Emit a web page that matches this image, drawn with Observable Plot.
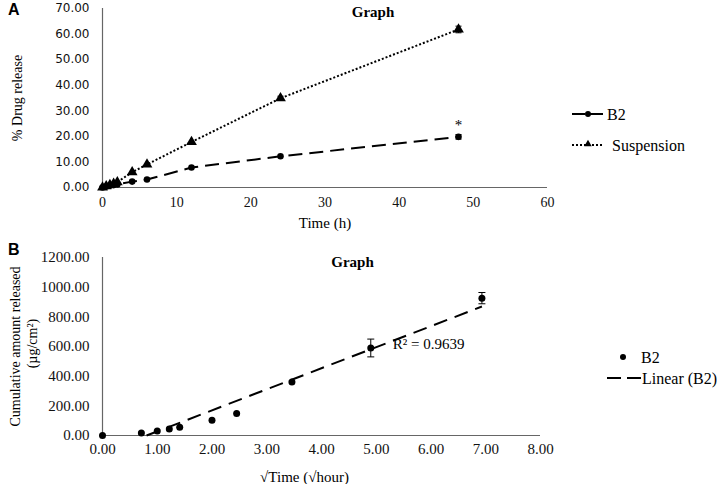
<!DOCTYPE html>
<html>
<head>
<meta charset="utf-8">
<script src="https://cdn.jsdelivr.net/npm/d3@7"></script>
<script src="https://cdn.jsdelivr.net/npm/@observablehq/plot@0.6"></script>
<style>
  body { margin: 0; background: #fff; }
  #wrap { position: relative; width: 720px; height: 484px; background: #fff; color: #111; }
  #wrap svg { display: block; }
  #overlay { position: absolute; left: 0; top: 0; pointer-events: none; }
</style>
</head>
<body>
<div id="wrap">
  <div id="a"></div>
  <div id="b"></div>
  <svg id="overlay" width="720" height="484"></svg>
</div>
<script>
// ---------- Panel A data ----------
const timesA = [0, 0.5, 1, 1.5, 2, 4, 6, 12, 24, 48];
const b2Release = [0, 0.36, 0.66, 0.94, 1.2, 2.3, 3.1, 7.8, 12.2, 19.8];
const suspRelease = [0, 0.5, 1.0, 1.5, 2.1, 6.0, 9.0, 17.8, 34.9, 61.8];
const b2ErrA = [0, 0, 0, 0, 0, 0, 0, 0, 0, 0.9];
const suspErrA = [0, 0, 0, 0, 0, 0, 0, 0, 0.8, 1.3];
const xTicksA = [0, 10, 20, 30, 40, 50, 60];
const yTicksA = [0, 10, 20, 30, 40, 50, 60, 70];
const starA = [{x: 48, y: 24.2, label: "*"}];

// ---------- Panel B data ----------
const sqrtTimeB = [0, 0.71, 1.00, 1.22, 1.41, 2.00, 2.45, 3.46, 4.90, 6.93];
const cumulativeB = [0, 17, 31, 44, 56, 103, 148, 360, 590, 926];
const errB = [0, 0, 0, 0, 0, 0, 0, 0, 60, 38];
const xTicksB = [0, 1, 2, 3, 4, 5, 6, 7, 8];
const yTicksB = [0, 200, 400, 600, 800, 1000, 1200];
const r2Label = [{x: 5.3, y: 618, label: "R² = 0.9639"}];

const serif = "'Liberation Serif', 'Times New Roman', serif";
const sans = "'DejaVu Sans', Verdana, sans-serif";

const capSymbol = {
  draw(context, size) {
    const w = Math.sqrt(size / Math.PI);
    context.moveTo(-w, 0);
    context.lineTo(w, 0);
  }
};

const rowsA = timesA.map((t, i) => ({t, b2: b2Release[i], s: suspRelease[i], eb: b2ErrA[i], es: suspErrA[i]}));
const errRowsA = [
  ...rowsA.filter(d => d.eb > 0).map(d => ({t: d.t, v: d.b2, e: d.eb})),
  ...rowsA.filter(d => d.es > 0).map(d => ({t: d.t, v: d.s, e: d.es}))
];

const chartA = Plot.plot({
  width: 720,
  height: 240,
  marginLeft: 102,
  marginRight: 173,
  marginTop: 8,
  marginBottom: 53,
  style: {background: "transparent", color: "#111", overflow: "visible"},
  x: {domain: [0, 60]},
  y: {domain: [0, 70]},
  marks: [
    Plot.axisX({ticks: xTicksA, tickFormat: d => String(d), tickSize: 0, tickPadding: 10, fontSize: 14, fontFamily: serif, label: null}),
    Plot.axisY({ticks: yTicksA, tickFormat: d3.format(".2f"), tickSize: 0, tickPadding: 13, fontSize: 12, fontFamily: sans, label: null}),
    Plot.ruleX([0], {stroke: "#666", strokeWidth: 1.2}),
    Plot.ruleY([0], {stroke: "#666", strokeWidth: 1.2}),
    Plot.line(rowsA, {x: "t", y: "s", stroke: "#000", strokeWidth: 2, strokeDasharray: "2,2", strokeLinecap: "butt"}),
    Plot.line(rowsA, {x: "t", y: "b2", stroke: "#000", strokeWidth: 2, strokeDasharray: "14,7", strokeLinecap: "butt"}),
    Plot.link(errRowsA, {x1: "t", x2: "t", y1: d => d.v - d.e, y2: d => d.v + d.e, stroke: "#000", strokeWidth: 1}),
    Plot.dot(errRowsA, {x: "t", y: d => d.v - d.e, symbol: capSymbol, r: 3, stroke: "#000", strokeWidth: 1}),
    Plot.dot(errRowsA, {x: "t", y: d => d.v + d.e, symbol: capSymbol, r: 3, stroke: "#000", strokeWidth: 1}),
    Plot.dot(rowsA, {x: "t", y: "s", symbol: "triangle", r: 4, fill: "#000"}),
    Plot.dot(rowsA, {x: "t", y: "b2", symbol: "circle", r: 3.3, fill: "#000"}),
    Plot.text(starA, {x: "x", y: "y", text: "label", fontSize: 15, fontFamily: serif, fill: "#000"}),
    Plot.text(["Graph"], {frameAnchor: "top", dx: 48, dy: -2, fontSize: 15, fontWeight: "bold", fontFamily: serif, fill: "#000"}),
    Plot.text(["Time (h)"], {frameAnchor: "bottom", dy: 40, fontSize: 15, fontFamily: serif, fill: "#000"}),
    Plot.text(["% Drug release"], {frameAnchor: "left", textAnchor: "middle", rotate: -90, dx: -85, fontSize: 14, fontFamily: serif, fill: "#000"})
  ]
});
document.getElementById("a").appendChild(chartA);

const rowsB = sqrtTimeB.map((x, i) => ({x, y: cumulativeB[i], e: errB[i]}));
const errRowsB = rowsB.filter(d => d.e > 0);

// least-squares trendline computed from the data
const mx = d3.mean(sqrtTimeB), my = d3.mean(cumulativeB);
const sxy = d3.sum(sqrtTimeB, (x, i) => (x - mx) * (cumulativeB[i] - my));
const sxx = d3.sum(sqrtTimeB, x => (x - mx) ** 2);
const slope = sxy / sxx, intercept = my - slope * mx;
const xStart = Math.max(d3.min(sqrtTimeB), -intercept / slope);
const xEnd = d3.max(sqrtTimeB);
const trend = [xStart, xEnd].map(x => ({x, y: slope * x + intercept}));

const chartB = Plot.plot({
  width: 720,
  height: 244,
  marginLeft: 102,
  marginRight: 180,
  marginTop: 17,
  marginBottom: 49,
  style: {background: "transparent", color: "#111", overflow: "visible"},
  x: {domain: [0, 8]},
  y: {domain: [0, 1200]},
  marks: [
    Plot.axisX({ticks: xTicksB, tickFormat: d3.format(".2f"), tickSize: 0, tickPadding: 8, fontSize: 15, fontFamily: serif, label: null}),
    Plot.axisY({ticks: yTicksB, tickFormat: d3.format(".2f"), tickSize: 0, tickPadding: 13, fontSize: 15, fontFamily: serif, label: null}),
    Plot.ruleX([0], {stroke: "#666", strokeWidth: 1.2}),
    Plot.ruleY([0], {stroke: "#666", strokeWidth: 1.2}),
    Plot.line(trend, {x: "x", y: "y", stroke: "#000", strokeWidth: 2, strokeDasharray: "14,8", strokeLinecap: "butt"}),
    Plot.link(errRowsB, {x1: "x", x2: "x", y1: d => d.y - d.e, y2: d => d.y + d.e, stroke: "#000", strokeWidth: 1}),
    Plot.dot(errRowsB, {x: "x", y: d => d.y - d.e, symbol: capSymbol, r: 3.5, stroke: "#000", strokeWidth: 1}),
    Plot.dot(errRowsB, {x: "x", y: d => d.y + d.e, symbol: capSymbol, r: 3.5, stroke: "#000", strokeWidth: 1}),
    Plot.dot(rowsB, {x: "x", y: "y", r: 3.5, fill: "#000"}),
    Plot.text(r2Label, {x: "x", y: "y", text: "label", textAnchor: "start", fontSize: 15, fontFamily: serif, fill: "#000"}),
    Plot.text(["Graph"], {frameAnchor: "top", dx: 31, dy: -1, fontSize: 15, fontWeight: "bold", fontFamily: serif, fill: "#000"}),
    Plot.text(["√Time (√hour)"], {frameAnchor: "bottom", dx: -17, dy: 46, fontSize: 15, fontFamily: serif, fill: "#000"}),
    Plot.text(["Cumulative amount released"], {frameAnchor: "left", textAnchor: "middle", rotate: -90, dx: -87, fontSize: 14, fontFamily: serif, fill: "#000"}),
    Plot.text(["(µg/cm²)"], {frameAnchor: "left", textAnchor: "middle", rotate: -90, dx: -70, dy: -3, fontSize: 14, fontFamily: serif, fill: "#000"})
  ]
});
document.getElementById("b").appendChild(chartB);

// ---------- Legends and panel letters ----------
const ov = d3.select("#overlay");
const txt = (x, y, s, opts = {}) => ov.append("text")
  .attr("x", x).attr("y", y).attr("dy", "0.35em")
  .attr("font-family", opts.family || serif)
  .attr("font-size", opts.size || 16)
  .attr("font-weight", opts.weight || "normal")
  .attr("fill", "#000").text(s);

// Panel letters
txt(8, 9, "A", {family: "'Liberation Sans', Arial, sans-serif", size: 16, weight: "bold"});
txt(8, 249, "B", {family: "'Liberation Sans', Arial, sans-serif", size: 16, weight: "bold"});

// Legend A
ov.append("line").attr("x1", 572).attr("x2", 605).attr("y1", 114).attr("y2", 114)
  .attr("stroke", "#000").attr("stroke-width", 2).attr("stroke-dasharray", "13,5");
ov.append("circle").attr("cx", 588).attr("cy", 114).attr("r", 3).attr("fill", "#000");
txt(607, 114, "B2");
ov.append("line").attr("x1", 572).attr("x2", 604).attr("y1", 145).attr("y2", 145)
  .attr("stroke", "#000").attr("stroke-width", 2).attr("stroke-dasharray", "2,2");
ov.append("path").attr("d", d3.symbol(d3.symbolTriangle2, 40)()).attr("transform", "translate(588,144)").attr("fill", "#000");
txt(612, 145, "Suspension");

// Legend B
ov.append("circle").attr("cx", 623).attr("cy", 357).attr("r", 3).attr("fill", "#000");
txt(641, 357, "B2");
ov.append("line").attr("x1", 607).attr("x2", 641).attr("y1", 378).attr("y2", 378)
  .attr("stroke", "#000").attr("stroke-width", 2).attr("stroke-dasharray", "14,6");
txt(642, 378, "Linear (B2)");
</script>
</body>
</html>
